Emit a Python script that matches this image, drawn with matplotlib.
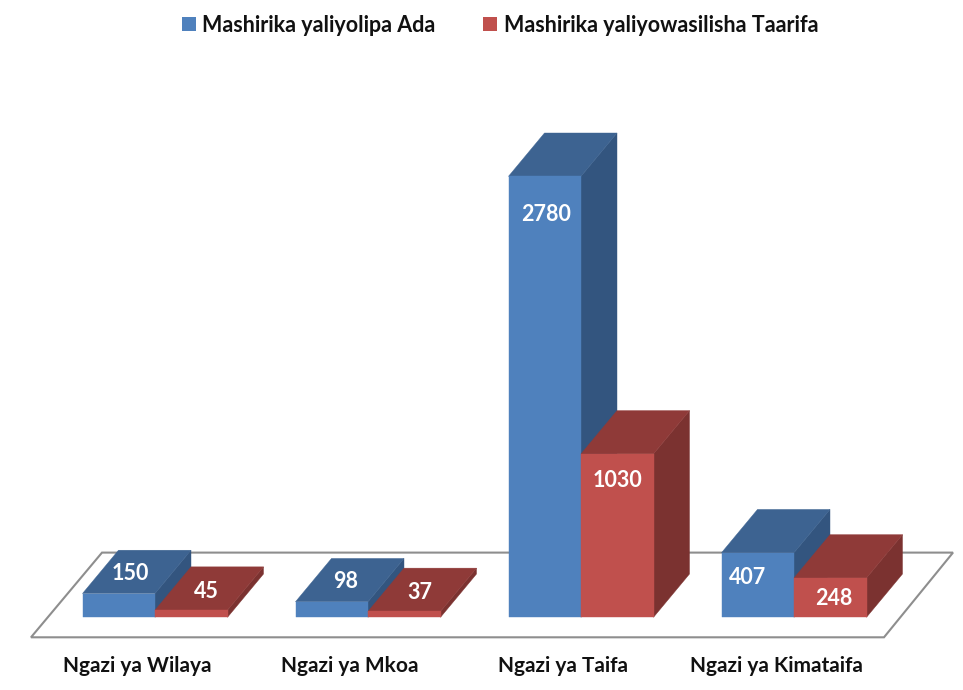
import numpy as np
import matplotlib
matplotlib.use("Agg")
import matplotlib.pyplot as plt
from matplotlib.patches import Polygon, Patch

plt.rcParams['font.family'] = ['Lato', 'DejaVu Sans']

categories = ['Ngazi ya Wilaya', 'Ngazi ya Mkoa', 'Ngazi ya Taifa', 'Ngazi ya Kimataifa']
ada = [150, 98, 2780, 407]
taarifa = [45, 37, 1030, 248]
series_names = ['Mashirika yaliyolipa Ada', 'Mashirika yaliyowasilisha Taarifa']

# front, top, side
blues = ('#4F81BD', '#3D6391', '#33557F')
reds = ('#C0504D', '#8F3A38', '#7B3230')

# pixel offsets of the value labels from the top centre of each front face
ada_off = [(12, 20), (14, 20), (1, -38), (-10, -25)]
taarifa_off = [(15, 19), (16, 19), (0, -27), (4, -21)]

W = 963
H = 690
px_x = 213.                 # pixels per category
px_y = 441. / 2780          # pixels per unit
base_px = 617.3
centre_px = 155.

bar_w = 72.5 / px_x
dx = 36. / px_x
dy = 43.3 / px_y

fig = plt.figure(figsize=(W / 100., H / 100.), dpi=100)
ax = fig.add_axes([0, 0, 1, 1])
ax.set_xlim(-centre_px / px_x, (W - centre_px) / px_x)
ax.set_ylim(-(H - base_px) / px_y, base_px / px_y)
ax.axis('off')

# floor
floor_y0 = -20. / px_y
floor_y1 = 64.7 / px_y
floor = [((31 - centre_px) / px_x, floor_y0), ((884 - centre_px) / px_x, floor_y0),
         ((953 - centre_px) / px_x, floor_y1), ((102 - centre_px) / px_x, floor_y1)]
ax.add_patch(Polygon(floor, closed=True, fill=False, edgecolor='#8E8E8E', lw=1.5, zorder=1))


def bar3d(x0, v, cols, z):
    x1 = x0 + bar_w
    ax.add_patch(Polygon([(x1, 0), (x1 + dx, dy), (x1 + dx, v + dy), (x1, v)],
                         facecolor=cols[2], edgecolor=cols[2], lw=0.3, zorder=z))
    ax.add_patch(Polygon([(x0, v), (x1, v), (x1 + dx, v + dy), (x0 + dx, v + dy)],
                         facecolor=cols[1], edgecolor=cols[1], lw=0.3, zorder=z))
    ax.add_patch(Polygon([(x0, 0), (x1, 0), (x1, v), (x0, v)],
                         facecolor=cols[0], edgecolor=cols[0], lw=0.3, zorder=z))


def value_label(x0, v, off):
    ax.annotate(str(v), (x0 + bar_w / 2, v), xytext=off, textcoords='offset pixels',
                ha='center', va='center', color='white', fontweight='bold',
                fontsize=15.5, zorder=10)


x = np.arange(len(categories))
for i in x:
    bar3d(i - bar_w, ada[i], blues, 3 + i)
    bar3d(i, taarifa[i], reds, 3 + i)
for i in x:
    value_label(i - bar_w, ada[i], ada_off[i])
    value_label(i, taarifa[i], taarifa_off[i])
    ax.text(i - 18. / px_x, -49.2 / px_y, categories[i], ha='center', va='center',
            fontweight='bold', fontsize=15, color='#111111')

handles = [Patch(facecolor=blues[0], label=series_names[0]),
           Patch(facecolor=reds[0], label=series_names[1])]
ax.legend(handles=handles, ncol=2, loc='center', bbox_to_anchor=(0.519, 1 - 25. / H),
          frameon=False, handlelength=0.68, handleheight=0.68, handletextpad=0.28,
          columnspacing=2.2, labelspacing=0,
          prop=dict(family=['Lato', 'DejaVu Sans'], weight='bold', size=15.5), labelcolor='#111111')

fig.savefig('out.png', dpi=100)
